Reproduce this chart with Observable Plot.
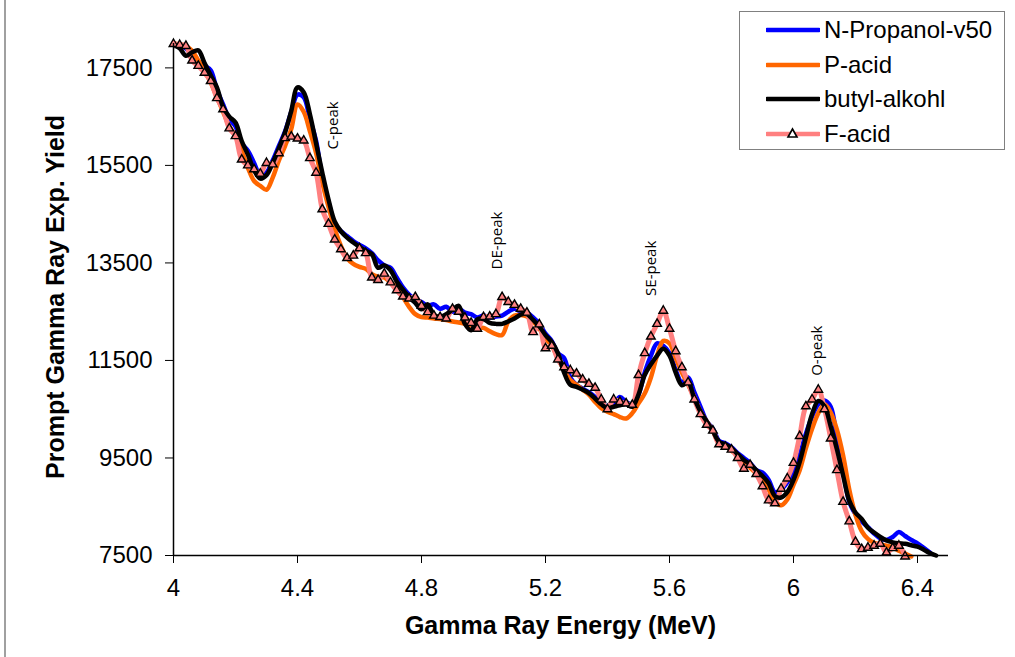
<!DOCTYPE html>
<html><head><meta charset="utf-8">
<script src="https://cdn.jsdelivr.net/npm/d3@7"></script>
<script src="https://cdn.jsdelivr.net/npm/@observablehq/plot@0.6"></script>
<style>
body{margin:0;background:#fff;}
#wrap{position:relative;width:1015px;height:657px;overflow:hidden;font-family:"Liberation Sans",Arial,sans-serif;color:#000;}
#wrap > svg{position:absolute;left:0;top:0;}
.lborder{position:absolute;left:4px;top:0;width:2px;height:657px;background:#a0a0a0;}
.xtitle{position:absolute;left:173px;width:775px;top:611px;text-align:center;font-weight:bold;font-size:25px;}
.ytitle{position:absolute;left:55px;top:297px;transform:translate(-50%,-50%) rotate(-90deg);white-space:nowrap;font-weight:bold;font-size:25px;}
.legend{position:absolute;left:739px;top:11px;width:266px;height:139px;border:1.5px solid #808080;box-sizing:border-box;background:#fff;}
.legend .item{position:absolute;left:26px;height:30px;display:flex;align-items:center;font-size:24px;white-space:nowrap;}
.legend .item svg{display:block;flex:none;}
.legend .item span{margin-left:4px;}
</style></head><body><div id="wrap"></div><script>
const energy = [
4.00,4.02,4.04,4.06,4.08,4.10,4.12,4.14,4.16,4.18,
4.20,4.22,4.24,4.26,4.28,4.30,4.32,4.34,4.36,4.38,
4.40,4.42,4.44,4.46,4.48,4.50,4.52,4.54,4.56,4.58,
4.60,4.62,4.64,4.66,4.68,4.70,4.72,4.74,4.76,4.78,
4.80,4.82,4.84,4.86,4.88,4.90,4.92,4.94,4.96,4.98,
5.00,5.02,5.04,5.06,5.08,5.10,5.12,5.14,5.16,5.18,
5.20,5.22,5.24,5.26,5.28,5.30,5.32,5.34,5.36,5.38,
5.40,5.42,5.44,5.46,5.48,5.50,5.52,5.54,5.56,5.58,
5.60,5.62,5.64,5.66,5.68,5.70,5.72,5.74,5.76,5.78,
5.80,5.82,5.84,5.86,5.88,5.90,5.92,5.94,5.96,5.98,
6.00,6.02,6.04,6.06,6.08,6.10,6.12,6.14,6.16,6.18,
6.20,6.22,6.24,6.26,6.28,6.30,6.32,6.34,6.36,6.38,
6.40,6.42,6.44,6.46];

const nPropanol = [
17980,17950,17900,17750,17600,17550,17450,17050,16750,16450,
16300,15950,15800,15550,15300,15350,15600,15900,16200,16600,
16950,16900,16450,16000,15250,14750,14300,14150,14050,13950,
13870,13800,13700,13550,13450,13400,13200,13000,12850,12750,
12700,12620,12650,12560,12600,12500,12560,12480,12450,12380,
12420,12380,12400,12420,12500,12560,12500,12480,12380,12250,
12050,11900,11650,11550,11150,11000,10920,10850,10750,10630,
10560,10620,10750,10650,10600,10800,11250,11600,11850,11800,
11650,11300,11050,11150,10850,10550,10250,10100,9850,9800,
9720,9600,9500,9400,9250,9200,9050,8800,8850,9000,
9200,9550,10000,10350,10600,10680,10550,9900,9250,8600,
8350,8200,8080,7950,7850,7820,7880,7980,7900,7820,
7750,7660,7560];

const pAcid = [
18000,17980,17950,17850,17650,17450,17200,16900,16600,16300,
16100,15800,15450,15180,15080,15000,15250,15600,15900,16250,
16750,16600,16200,15750,15150,14650,14200,13850,13600,13480,
13420,13380,13270,13220,13200,13100,13000,12800,12600,12450,
12390,12380,12360,12350,12330,12300,12280,12250,12220,12180,
12170,12100,12040,12020,12300,12420,12430,12400,12300,12150,
11950,11800,11550,11300,11100,11000,10900,10800,10650,10520,
10450,10400,10340,10310,10420,10620,10820,11150,11600,11900,
11850,11550,11250,11000,10750,10450,10250,10050,9800,9750,
9650,9550,9400,9300,9180,9050,8850,8600,8530,8650,
8950,9250,9700,10100,10420,10600,10430,10080,9550,8850,
8330,8000,7840,7760,7730,7700,7670,7600,7540,7480];

const butylAlkohl = [
17980,17900,17750,17820,17860,17600,17350,17100,16700,16500,
16380,16000,15720,15400,15230,15300,15550,15850,16180,16620,
17100,17000,16550,15950,15350,14800,14350,14150,14020,13920,
13830,13750,13680,13400,13450,13350,13120,12950,12800,12680,
12550,12650,12430,12390,12450,12540,12620,12250,12120,12340,
12350,12270,12250,12250,12300,12360,12440,12450,12330,12200,
12020,11880,11650,11250,11000,10960,10900,10830,10720,10600,
10520,10550,10580,10600,10550,10800,11200,11420,11600,11740,
11600,11250,10990,11050,10720,10450,10250,10050,9830,9780,
9700,9580,9460,9370,9250,9130,8980,8720,8690,8800,
9050,9420,9920,10400,10670,10560,10150,9680,9140,8620,
8380,8250,8070,7970,7880,7810,7770,7750,7740,7710,
7680,7620,7550,7500];

const fAcid = [
17990,17970,17950,17650,17540,17400,17230,16880,16650,16260,
16100,15620,15500,15420,15330,15550,15520,15750,16060,16090,
16050,16010,15650,15350,14600,14300,13980,13780,13600,13650,
13800,13700,13200,13150,13280,13100,12940,12810,12770,12800,
12620,12490,12420,12390,12360,12560,12500,12380,12270,12150,
12390,12400,12450,12800,12700,12640,12560,12480,12080,12240,
11750,11800,11520,11360,11300,11230,11110,11020,10940,10700,
10500,10700,10650,10620,10590,11200,11650,11990,12250,12520,
12150,11690,11360,11050,10700,10400,10180,10060,9780,9730,
9670,9500,9280,9360,9170,8920,8630,8570,8870,9080,
9400,9950,10560,10700,10900,10500,9900,9250,8600,8200,
7780,7630,7660,7700,7740,7560,7650,7700,7480];

const seriesNames = ["N-Propanol-v50","P-acid","butyl-alkohl","F-acid"];
const xTicks = [4,4.4,4.8,5.2,5.6,6,6.4];
const yTicks = [7500,9500,11500,13500,15500,17500];
const peakLabels = ["C-peak","DE-peak","SE-peak","O-peak"];
const peakEnergy = [4.515,5.045,5.542,6.078];
const peakYield = [16320,13960,13390,11700];

const seriesValues = [nPropanol, pAcid, butylAlkohl, fAcid];
const colors = ["#0000FF","#FF6600","#000000","#FF8080"];
const rowsOf = (k) => seriesValues[k].map((v,i)=>({series:seriesNames[k], energy:energy[i], value:v}));
const blueRows = rowsOf(0), orangeRows = rowsOf(1), blackRows = rowsOf(2), pinkRows = rowsOf(3);
const peaks = peakLabels.map((t,i)=>({label:t, energy:peakEnergy[i], value:peakYield[i]}));

const chart = Plot.plot({
  width:1015, height:657,
  marginLeft:173, marginRight:67, marginTop:43, marginBottom:102,
  style:{fontFamily:"'Liberation Sans', Arial, sans-serif", fontSize:"24px", color:"#000", background:"transparent", overflow:"visible"},
  x:{domain:[4,6.5], ticks:xTicks, tickFormat:d=>String(d), tickSize:8, tickPadding:15, label:null},
  y:{domain:[7500,18000], ticks:yTicks, tickFormat:d=>String(d), tickSize:8, tickPadding:13, label:null},
  marks:[
    Plot.line(blueRows,{x:"energy",y:"value",stroke:colors[0],strokeWidth:4.5,curve:"catmull-rom"}),
    Plot.line(orangeRows,{x:"energy",y:"value",stroke:colors[1],strokeWidth:4.5,curve:"catmull-rom"}),
    Plot.line(pinkRows,{x:"energy",y:"value",stroke:colors[3],strokeWidth:5,curve:"catmull-rom"}),
    Plot.line(blackRows,{x:"energy",y:"value",stroke:colors[2],strokeWidth:4.5,curve:"catmull-rom"}),
    Plot.dot(pinkRows,{x:"energy",y:"value",symbol:"triangle",r:3.2,fill:"#FF8080",stroke:"#000",strokeWidth:1.4}),
    Plot.ruleX([4],{stroke:"#000",strokeWidth:1.5}),
    Plot.ruleY([7500],{stroke:"#000",strokeWidth:1.5}),
    Plot.text(peaks,{x:"energy",y:"value",text:"label",rotate:-90,fontSize:15,fontFamily:"'Open Sans', sans-serif",fill:"#000",textAnchor:"middle"})
  ]
});

const wrap = document.getElementById("wrap");
wrap.appendChild(chart);
const lb = document.createElement("div"); lb.className="lborder"; wrap.appendChild(lb);
const xt = document.createElement("div"); xt.className="xtitle"; xt.textContent="Gamma Ray Energy (MeV)"; wrap.appendChild(xt);
const yt = document.createElement("div"); yt.className="ytitle"; yt.textContent="Prompt Gamma Ray Exp. Yield"; wrap.appendChild(yt);
const lg = document.createElement("div"); lg.className="legend"; wrap.appendChild(lg);
seriesNames.forEach((name,i)=>{
  const it = document.createElement("div"); it.className="item";
  it.style.top = (3 + i*34.7) + "px";
  const marker = i===3 ? '<path d="M26.5,10 L31,18 L22,18 Z" fill="#fff" stroke="#000" stroke-width="1.6"/>' : '';
  it.innerHTML = '<svg width="54" height="30"><line x1="1" x2="53" y1="15" y2="15" stroke="'+colors[i]+'" stroke-width="4.5" stroke-linecap="round"/>'+marker+'</svg><span>'+name+'</span>';
  lg.appendChild(it);
});
</script></body></html>
